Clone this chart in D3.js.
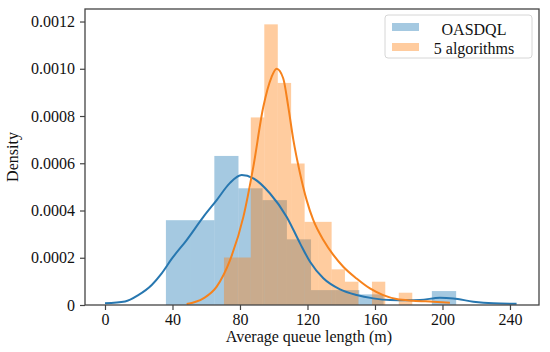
<!DOCTYPE html>
<html><head><meta charset="utf-8">
<script src="https://cdn.jsdelivr.net/npm/d3@7"></script>
<style>body{margin:0;background:#fff}svg{display:block}text{font-family:"Liberation Serif","Times New Roman",serif;fill:#111}</style>
</head><body><svg id="c" width="550" height="352"></svg>
<script>
// ---- data ----
const seriesNames = ["OASDQL", "5 algorithms"];
const xTicks = [0, 40, 80, 120, 160, 200, 240];
const yTicks = [0, 0.0002, 0.0004, 0.0006, 0.0008, 0.0010, 0.0012];
const yTickLabels = ["0", "0.0002", "0.0004", "0.0006", "0.0008", "0.0010", "0.0012"];

// OASDQL histogram (bin edges, densities)
const blueEdges = [36.1, 50.4, 64.8, 79.1, 93.4, 107.8, 122.1, 136.4, 150.7, 165.1, 179.4, 193.7, 208.1];
const blueDens  = [0.000359, 0.000359, 0.000631, 0.000494, 0.000444, 0.000278, 0.000063, 0.000063, 0.000045, 0, 0, 0.000059];
// 5 algorithms histogram
const orangeEdges = [70.5, 78.5, 86.4, 94.4, 102.4, 110.3, 118.3, 126.3, 134.3, 142.2, 150.2, 158.2, 166.1, 174.1, 182.1];
const orangeDens  = [0.000201, 0.000201, 0.000794, 0.001188, 0.00094, 0.000599, 0.000352, 0.000352, 0.000151, 0.0000986, 0, 0.0000986, 0, 0.000052];

// KDE curves
const blueKdeX = [0, 11.9, 19.7, 27.7, 33.6, 39.5, 48.4, 58.3, 66.2, 74.1, 81, 87.9, 97.8, 107.7, 115.6, 121.5, 129.4, 139.3, 149.1, 159, 168.9, 178.7, 186.7, 198.5, 206.4, 218.3, 230.1, 243.9];
const blueKdeY = [0.000007, 0.000015, 0.000042, 0.000085, 0.000134, 0.000195, 0.000275, 0.000373, 0.000444, 0.000517, 0.00055, 0.000536, 0.000472, 0.000373, 0.000261, 0.000183, 0.000113, 0.000066, 0.000042, 0.000028, 0.000021, 0.00002, 0.000021, 0.000031, 0.000028, 0.000014, 0.000007, 0.000005];
const orangeKdeX = [48.4, 58.3, 66.2, 74.1, 82, 87.9, 93.8, 98.7, 101.7, 105.6, 108.6, 111.6, 115.6, 119.5, 123.4, 129.4, 135.3, 141.2, 149.1, 157, 164.9, 172.8, 182.7, 194.5, 204.4];
const orangeKdeY = [0.000004, 0.000028, 0.000078, 0.00019, 0.000373, 0.000585, 0.000838, 0.000965, 0.001, 0.00096, 0.00084, 0.0007, 0.000557, 0.000444, 0.00036, 0.000275, 0.000212, 0.000162, 0.000112, 0.00007, 0.000042, 0.000025, 0.000018, 0.000014, 0.00001];

// ---- layout ----
const L = 85, R = 539, T = 9, B = 305;
const svg = d3.select("#c");
const x = d3.scaleLinear().domain([-11.85, 257.2]).range([L, R]);
const y = d3.scaleLinear().domain([0, 0.001253]).range([B, T]);

const blueFill = "rgba(31,119,180,0.4)", orangeFill = "rgba(255,127,14,0.4)";
const blueLine = "#2777b0", orangeLine = "#f6821c";

function bars(edges, dens, fill) {
  const d = dens.map((v, i) => ({x0: edges[i], x1: edges[i + 1], v})).filter(b => b.v > 0);
  svg.append("g").selectAll("rect").data(d).join("rect")
    .attr("x", b => x(b.x0)).attr("width", b => x(b.x1) - x(b.x0))
    .attr("y", b => y(b.v)).attr("height", b => y(0) - y(b.v))
    .attr("fill", fill);
}
bars(blueEdges, blueDens, blueFill);
bars(orangeEdges, orangeDens, orangeFill);

const line = d3.line().x(d => x(d[0])).y(d => y(d[1])).curve(d3.curveMonotoneX);
svg.append("path").attr("d", line(blueKdeX.map((v, i) => [v, blueKdeY[i]])))
  .attr("fill", "none").attr("stroke", blueLine).attr("stroke-width", 2);
svg.append("path").attr("d", line(orangeKdeX.map((v, i) => [v, orangeKdeY[i]])))
  .attr("fill", "none").attr("stroke", orangeLine).attr("stroke-width", 2);

// frame
svg.append("rect").attr("x", L).attr("y", T).attr("width", R - L).attr("height", B - T)
  .attr("fill", "none").attr("stroke", "#444").attr("stroke-width", 1.3);

// axes
const xAxis = d3.axisBottom(x).tickValues(xTicks).tickSize(5).tickPadding(4);
const gx = svg.append("g").attr("transform", `translate(0,${B})`).call(xAxis);
gx.select(".domain").remove();
gx.selectAll("line").attr("stroke", "#444").attr("stroke-width", 1.2);
gx.selectAll("text").attr("font-size", 16).attr("font-family", "Liberation Serif").attr("fill", "#111");

const yAxis = d3.axisLeft(y).tickValues(yTicks).tickFormat((d, i) => yTickLabels[i]).tickSize(5).tickPadding(5);
const gy = svg.append("g").attr("transform", `translate(${L},0)`).call(yAxis);
gy.select(".domain").remove();
gy.selectAll("line").attr("stroke", "#444").attr("stroke-width", 1.2);
gy.selectAll("text").attr("font-size", 16).attr("font-family", "Liberation Serif").attr("fill", "#111");

svg.append("text").attr("x", (L + R) / 2 - 3).attr("y", 342).attr("text-anchor", "middle")
  .attr("font-size", 16).text("Average queue length (m)");
svg.append("text").attr("transform", `translate(18,${(T + B) / 2}) rotate(-90)`).attr("text-anchor", "middle")
  .attr("font-size", 16).text("Density");

// legend
const lg = svg.append("g");
lg.append("rect").attr("x", 385).attr("y", 15).attr("width", 147).attr("height", 43).attr("rx", 3)
  .attr("fill", "#fff").attr("fill-opacity", 0.8).attr("stroke", "#d6d6d6");
[blueFill, orangeFill].forEach((c, i) => {
  lg.append("rect").attr("x", 392).attr("y", 23 + i * 20).attr("width", 27).attr("height", 8).attr("fill", c);
  lg.append("text").attr("x", 474).attr("y", 35 + i * 18.5).attr("text-anchor", "middle")
    .attr("font-size", 16).text(seriesNames[i]);
});
</script></body></html>
